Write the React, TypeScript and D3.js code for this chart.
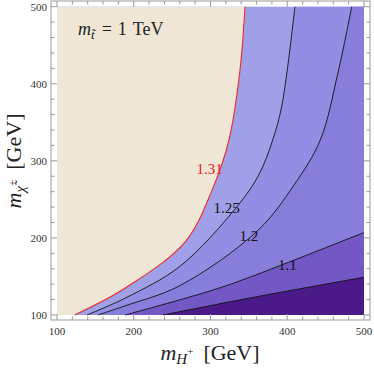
import React from 'react';
import * as d3 from 'd3';

// axis ticks (GeV)
const majorTicks = [100, 200, 300, 400, 500];
const minorTicks = [120, 140, 160, 180, 220, 240, 260, 280, 320, 340, 360, 380, 420, 440, 460, 480];

// contour lines, [m_H+, m_chi+] in GeV
const contour131 = [[123, 100], [189, 135], [267, 195], [302, 262], [324, 327], [338, 414], [345, 500]];
const contour125 = [[139, 100], [189, 122], [260, 163], [334, 240], [363, 282], [381, 327], [393, 372], [410, 500]];
const contour120 = [[153, 100], [189, 112], [260, 138], [362, 210], [409, 269], [443, 327], [466, 414], [484, 500]];
const contour110 = [[189, 100], [302, 132], [351, 149], [500, 207]];
const contour100 = [[238, 100], [351, 122], [500, 149]];

// contour labels: text, position
const labelText = ['1.31', '1.25', '1.2', '1.1'];
const labelPos = [[299, 290], [321, 239], [350, 203], [400, 165]];

const W = 374;
const H = 368;

export default function App() {
  const x = d3.scaleLinear().domain([100, 500]).range([57, 364]);
  const y = d3.scaleLinear().domain([100, 500]).range([315, 6.7]);

  const line = d3.line<number[]>()
    .x(d => x(d[0]))
    .y(d => y(d[1]))
    .curve(d3.curveCatmullRom.alpha(0.5));

  // region right/below a curve going up to the right edge or top
  const rightRegion = (pts: number[][]) => {
    const last = pts[pts.length - 1];
    let p = line(pts) as string;
    if (last[1] >= 500) p += `L${x(500)},${y(500)}`;
    p += `L${x(500)},${y(100)}Z`;
    return p;
  };
  const beige = (line(contour131) as string) + `L${x(100)},${y(500)}L${x(100)},${y(100)}Z`;

  const fL = 51, fT = 1, fR = 370, fB = 320;
  const axisCol = '#999';
  const font = '"Liberation Serif", "Times New Roman", serif';

  return (
    <svg width={W} height={H} style={{ position: 'absolute', left: 0, top: 0, background: '#fff' }}
      fontFamily={font}>
      {/* bands */}
      <rect x={x(100)} y={y(500)} width={x(500) - x(100)} height={y(100) - y(500)} fill="#a0a0e8" />
      <path d={rightRegion(contour125)} fill="#938ee3" />
      <path d={rightRegion(contour120)} fill="#877edc" />
      <path d={rightRegion(contour110)} fill="#7358c5" />
      <path d={rightRegion(contour100)} fill="#4a1a88" />
      <path d={beige} fill="#efe6d6" />

      {/* contour lines */}
      <path d={line(contour131) as string} fill="none" stroke="#f02828" strokeWidth={1.1} />
      {[contour125, contour120, contour110, contour100].map((c, i) => (
        <path key={i} d={line(c) as string} fill="none" stroke="#111" strokeWidth={0.9} />
      ))}

      {/* contour labels */}
      {labelText.map((t, i) => (
        <text key={t} x={x(labelPos[i][0])} y={y(labelPos[i][1])} textAnchor="middle"
          dominantBaseline="central" fontSize={15} fill={i === 0 ? '#e81c1c' : '#111'}>{t}</text>
      ))}

      {/* frame */}
      <rect x={fL} y={fT} width={fR - fL} height={fB - fT} fill="none" stroke={axisCol} strokeWidth={1} />
      {majorTicks.map(v => (
        <g key={'M' + v} stroke={axisCol}>
          <line x1={x(v)} x2={x(v)} y1={fB} y2={fB - 6} />
          <line x1={x(v)} x2={x(v)} y1={fT} y2={fT + 6} />
          <line x1={fL} x2={fL + 6} y1={y(v)} y2={y(v)} />
          <line x1={fR} x2={fR - 6} y1={y(v)} y2={y(v)} />
        </g>
      ))}
      {minorTicks.map(v => (
        <g key={'m' + v} stroke={axisCol}>
          <line x1={x(v)} x2={x(v)} y1={fB} y2={fB - 3.5} />
          <line x1={x(v)} x2={x(v)} y1={fT} y2={fT + 3.5} />
          <line x1={fL} x2={fL + 3.5} y1={y(v)} y2={y(v)} />
          <line x1={fR} x2={fR - 3.5} y1={y(v)} y2={y(v)} />
        </g>
      ))}
      {majorTicks.map(v => (
        <text key={'xl' + v} x={x(v)} y={fB + 15} textAnchor="middle" fontSize={11} fill="#333">{v}</text>
      ))}
      {majorTicks.map(v => (
        <text key={'yl' + v} x={fL - 4} y={y(v)} textAnchor="end" dominantBaseline="central"
          fontSize={11} fill="#333">{v}</text>
      ))}

      {/* inset title */}
      <text x={78} y={35} fontSize={18} fill="#222">
        <tspan fontStyle="italic">m</tspan>
        <tspan fontStyle="italic" fontSize={13} dy={4}>t̃</tspan>
        <tspan dy={-4} dx={7}>=</tspan>
        <tspan dx={6}>1</tspan>
        <tspan dx={6}>TeV</tspan>
      </text>

      {/* axis titles */}
      <text x={210} y={360} textAnchor="middle" fontSize={22} fill="#222">
        <tspan fontStyle="italic">m</tspan>
        <tspan fontStyle="italic" fontSize={15} dy={4}>H</tspan>
        <tspan fontSize={11} dy={-9}>+</tspan>
        <tspan dy={5} dx={10}>[GeV]</tspan>
      </text>
      <text transform={`translate(21,161) rotate(-90)`} textAnchor="middle" fontSize={22} fill="#222">
        <tspan fontStyle="italic">m</tspan>
        <tspan fontStyle="italic" fontSize={15} dy={4}>χ̃</tspan>
        <tspan fontSize={11} dy={-9}>+</tspan>
        <tspan dy={5} dx={10}>[GeV]</tspan>
      </text>
    </svg>
  );
}
